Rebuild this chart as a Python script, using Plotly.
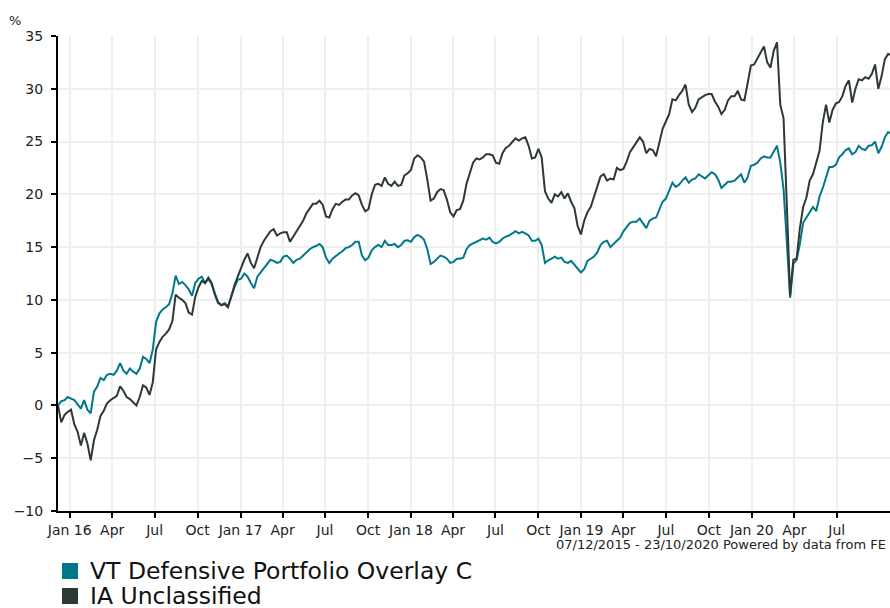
import pandas as pd
import plotly.graph_objects as go

# ---------------- data ----------------
start_date = "2015-12-07"
end_date = "2020-10-23"
dates = list(pd.date_range(start_date, periods=255, freq="7D").strftime("%Y-%m-%d")) + [end_date]

fund_name = "VT Defensive Portfolio Overlay C"
sector_name = "IA Unclassified"

fund = [
    0.0, 0.4, 0.5, 0.8, 0.65, 0.5, 0.1, -0.3, 0.5, -0.4,
    -0.75, 1.3, 1.8, 2.6, 2.4, 2.9, 3.0, 2.9, 3.3, 4.0,
    3.3, 3.0, 3.5, 3.2, 3.0, 3.5, 4.6, 4.4, 4.0, 5.3,
    7.9, 8.7, 9.1, 9.3, 9.6, 10.6, 12.3, 11.5, 11.7, 11.4,
    11.0, 10.4, 11.6, 12.0, 12.2, 11.6, 12.0, 11.5, 10.6, 9.8,
    9.5, 9.7, 9.4, 10.4, 11.2, 11.9, 12.0, 12.5, 12.2, 11.6,
    11.1, 12.2, 12.6, 13.0, 13.4, 13.8, 13.7, 13.5, 13.6, 14.1,
    14.2, 13.9, 13.5, 13.8, 13.9, 14.2, 14.5, 14.8, 15.0, 15.1,
    15.3, 15.0, 14.0, 13.5, 13.9, 14.2, 14.4, 14.6, 14.9, 15.0,
    15.2, 15.5, 15.5, 14.2, 13.75, 14.0, 14.7, 15.0, 15.2, 15.0,
    15.6, 15.2, 15.2, 15.3, 15.0, 15.2, 15.6, 15.65, 15.5, 15.95,
    16.15, 16.0, 15.7, 14.8, 13.4, 13.6, 13.9, 14.2, 14.1, 13.9,
    13.5, 13.6, 13.9, 13.9, 14.0, 14.8, 15.2, 15.35, 15.5, 15.6,
    15.8, 15.7, 15.9, 15.5, 15.35, 15.5, 15.8, 16.0, 16.1, 16.3,
    16.5, 16.3, 16.45, 16.3, 16.1, 15.6, 15.6, 15.8, 15.2, 13.5,
    13.75, 13.9, 14.1, 13.9, 14.0, 13.6, 13.5, 13.7, 13.3, 13.0,
    12.6, 12.9, 13.7, 13.9, 14.1, 14.5, 15.2, 15.5, 15.6, 15.0,
    15.35, 15.6, 15.9, 16.5, 16.9, 17.3, 17.4, 17.4, 17.7, 17.3,
    16.8, 17.5, 17.7, 17.8, 18.6, 19.3, 19.6, 20.3, 21.1, 20.7,
    20.9, 21.3, 21.6, 21.1, 21.4, 21.5, 21.9, 21.7, 21.5, 21.8,
    22.1, 21.9, 21.4, 20.6, 20.9, 21.2, 21.2, 21.3, 21.6, 21.9,
    21.1, 21.6, 22.7, 22.8, 23.0, 23.4, 23.6, 23.5, 23.5, 24.1,
    24.6, 23.0, 20.5, 15.5, 10.2, 13.4, 13.8, 15.3, 17.3, 17.8,
    18.3, 18.8, 18.4, 19.8, 20.6, 21.5, 22.6, 22.6, 22.8, 23.5,
    23.8, 24.2, 24.35, 23.8, 24.0, 24.6, 24.3, 24.2, 24.6, 24.65,
    25.0, 23.9, 24.5, 25.4, 25.9,
    25.8,
]

sector = [
    0.0, -1.6, -0.9, -0.6, -0.4, -1.8, -2.5, -3.8, -2.6, -3.6,
    -5.2, -3.3, -2.3, -1.0, -0.5, 0.2, 0.5, 0.7, 0.9, 1.8,
    1.4, 0.8, 0.6, 0.3, 0.0, 0.8, 1.9, 1.7, 1.0, 2.2,
    5.3, 6.0, 6.5, 6.8, 7.2, 8.0, 10.5, 10.2, 10.0, 9.7,
    8.8, 8.6, 10.3, 11.2, 11.8, 11.6, 12.1, 11.6, 10.5, 9.7,
    9.5, 9.6, 9.3, 10.3, 11.4, 12.2, 13.0, 13.8, 14.4, 13.5,
    13.0, 14.0, 15.0, 15.6, 16.1, 16.5, 16.7, 16.1, 16.3, 16.4,
    16.4, 15.5, 16.0, 16.5, 16.9, 17.5, 18.2, 18.7, 19.1, 19.1,
    19.4, 19.0, 17.9, 17.8, 18.6, 19.1, 19.0, 19.3, 19.5, 19.5,
    19.9, 20.1, 19.9, 19.0, 18.4, 18.6, 20.0, 20.9, 21.0, 20.8,
    21.6, 21.0, 20.8, 21.2, 20.8, 20.9, 21.8, 22.0, 22.3, 23.4,
    23.7, 23.5, 23.1, 21.4, 19.4, 19.6, 20.2, 20.5, 20.4, 19.5,
    18.3, 17.9, 18.5, 18.6, 19.4, 21.0, 22.0, 23.0, 23.4, 23.3,
    23.5, 23.8, 23.8, 23.7, 23.0, 22.9, 23.9, 24.4, 24.6, 25.0,
    25.3, 25.1, 25.3, 25.4, 24.6, 23.4, 23.5, 24.3, 23.5, 20.3,
    19.6, 19.2, 20.0, 19.8, 20.2, 19.6, 20.1, 19.3, 18.7, 17.0,
    16.2, 17.5, 18.3, 18.8, 19.7, 20.8, 21.7, 21.9, 21.3, 21.5,
    21.4, 22.5, 22.3, 22.4, 23.1, 24.0, 24.5, 25.0, 25.4, 25.0,
    23.9, 24.3, 24.2, 23.6, 25.0, 26.2, 26.9, 27.6, 29.0, 28.9,
    29.4, 29.8, 30.4, 28.5, 27.8, 28.2, 29.0, 29.2, 29.4, 29.5,
    29.5, 28.8, 28.3, 27.6, 28.0, 28.9, 29.3, 29.3, 29.8, 29.0,
    28.9, 30.5, 32.2, 32.3, 32.85, 33.4, 34.0, 32.5, 32.0, 33.6,
    34.4, 28.5, 27.2, 19.0, 10.4, 13.8, 13.9, 16.8, 18.8, 19.7,
    21.3, 21.9, 22.9, 24.1, 26.8, 28.5, 26.8, 28.0, 28.6, 28.75,
    29.3, 30.3, 30.8, 28.7, 30.0, 30.9, 30.8, 31.1, 30.95, 31.4,
    32.3, 30.0, 31.2, 32.8, 33.3,
    33.2,
]

tick_dates = [
    "2016-01-01", "2016-04-01", "2016-07-01", "2016-10-01",
    "2017-01-01", "2017-04-01", "2017-07-01", "2017-10-01",
    "2018-01-01", "2018-04-01", "2018-07-01", "2018-10-01",
    "2019-01-01", "2019-04-01", "2019-07-01", "2019-10-01",
    "2020-01-01", "2020-04-01", "2020-07-01",
]
tick_labels = [
    "Jan 16", "Apr", "Jul", "Oct",
    "Jan 17", "Apr", "Jul", "Oct",
    "Jan 18", "Apr", "Jul", "Oct",
    "Jan 19", "Apr", "Jul", "Oct",
    "Jan 20", "Apr", "Jul",
]
y_ticks = [-10, -5, 0, 5, 10, 15, 20, 25, 30, 35]

footer_text = "07/12/2015 - 23/10/2020 Powered by data from FE"

# ---------------- style ----------------
FUND_COLOR = "#00788A"
SECTOR_COLOR = "#2D3936"
FONT = "DejaVu Sans, Verdana, sans-serif"

W, H = 890, 608
L, R, T, B = 58, 0, 36, 97
PW, PH = W - L - R, H - T - B


def px_x(x):
    return (x - L) / PW


def px_y(y):
    return (H - B - y) / PH


fig = go.Figure()

fig.add_trace(go.Scatter(x=dates, y=fund, mode="lines",
                         line=dict(color=FUND_COLOR, width=2),
                         showlegend=False, name=fund_name))
fig.add_trace(go.Scatter(x=dates, y=sector, mode="lines",
                         line=dict(color=SECTOR_COLOR, width=2),
                         showlegend=False, name=sector_name))

# custom legend below the chart: square swatch + label
legend_items = [(fund_name, FUND_COLOR, 571), (sector_name, SECTOR_COLOR, 596)]
shapes = []
annotations = []
for label, color, cy in legend_items:
    shapes.append(dict(type="rect", xref="paper", yref="paper",
                       x0=px_x(62), x1=px_x(78), y0=px_y(cy + 8), y1=px_y(cy - 8),
                       fillcolor=color, line=dict(width=0)))
    annotations.append(dict(text=label, xref="paper", yref="paper",
                            x=px_x(88), y=px_y(cy), xanchor="left", yanchor="middle",
                            showarrow=False, font=dict(size=23.5, color="#111111")))

annotations += [
    dict(text="%", xref="paper", yref="paper",
         x=px_x(15), y=px_y(20),
         xanchor="center", yanchor="middle", showarrow=False,
         font=dict(size=13, color="#222222")),
    dict(text=footer_text, xref="paper", yref="paper",
         x=px_x(888), y=px_y(544),
         xanchor="right", yanchor="middle", showarrow=False,
         font=dict(size=13, color="#222222")),
]

fig.update_layout(
    width=W, height=H,
    margin=dict(l=L, r=R, t=T, b=B, autoexpand=False),
    paper_bgcolor="white", plot_bgcolor="white",
    font=dict(family=FONT, size=14, color="#222222"),
    showlegend=False,
    xaxis=dict(
        type="date",
        range=[start_date, end_date],
        tickmode="array", tickvals=tick_dates, ticktext=tick_labels,
        tickangle=0,
        showgrid=True, gridcolor="#EFEFEF", gridwidth=2,
        showline=True, linecolor="black", linewidth=2,
        ticks="outside", ticklen=5, tickwidth=2, tickcolor="black",
        tickfont=dict(size=14),
        ticklabelstandoff=0,
        zeroline=False,
    ),
    yaxis=dict(
        range=[-10, 35],
        tickmode="array", tickvals=y_ticks,
        showgrid=True, gridcolor="#EFEFEF", gridwidth=2,
        showline=True, linecolor="black", linewidth=2,
        ticks="outside", ticklen=5, tickwidth=2, tickcolor="black",
        tickfont=dict(size=14),
        ticklabelstandoff=5,
        zeroline=False,
    ),
    shapes=shapes,
    annotations=annotations,
)

fig.write_html(
    "out.html",
    config={"displayModeBar": False},
    post_script="document.body.style.margin='0px';document.body.style.overflow='hidden';",
)
